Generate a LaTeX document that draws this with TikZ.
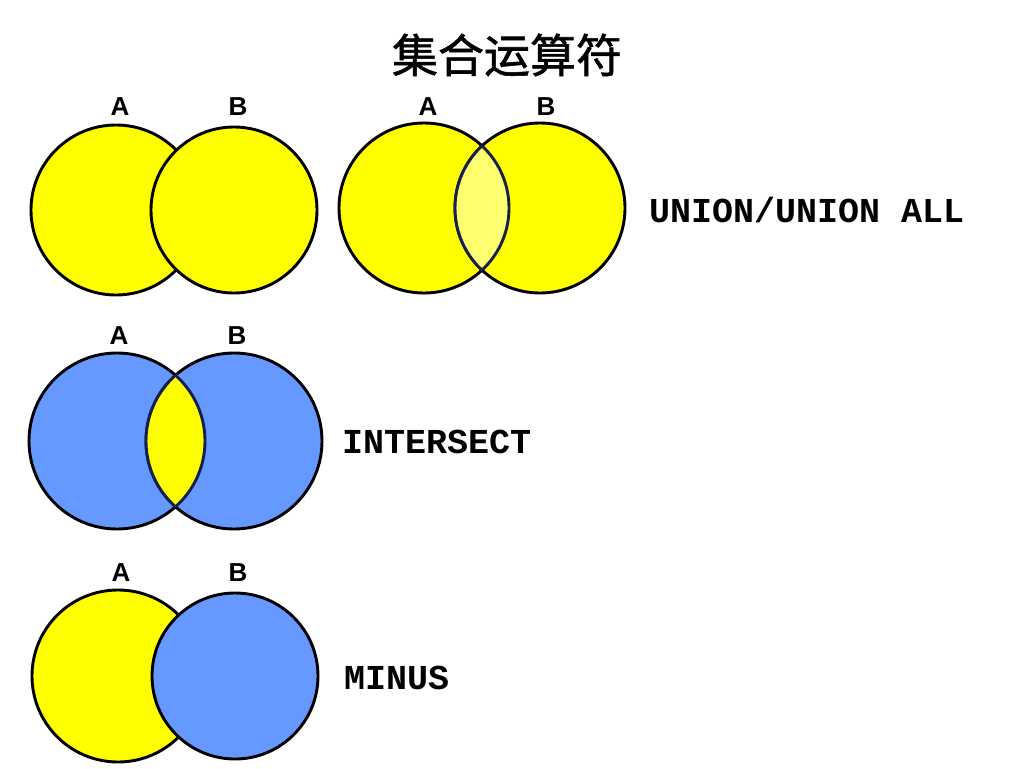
\documentclass[tikz,border=0pt]{standalone}
\usepackage{fontspec}
\setmainfont{Liberation Sans}
\newfontfamily\cjk[FakeBold=1.2]{Noto Sans CJK SC}
\newfontfamily\monofnt{Liberation Mono}
\definecolor{vyellow}{HTML}{FFFF00}
\definecolor{vblue}{HTML}{6699FF}
\definecolor{lensyellow}{HTML}{FFFF70}
\definecolor{navy}{HTML}{14204F}
\tikzset{
  setcirc/.style={circle, draw=black, line width=2.9pt, inner sep=0pt, minimum size=#1},
  setlabel/.style={font=\bfseries\fontsize{26}{26}\selectfont, inner sep=0pt},
  oplabel/.style={font=\monofnt\bfseries\fontsize{35}{35}\selectfont, anchor=west, inner sep=0pt},
  lensline/.style={draw=navy, line width=2.9pt}
}
\begin{document}
\begin{tikzpicture}[x=1pt,y=-1pt]
\useasboundingbox[fill=white] (0,0) rectangle (1014,768);
% title
\node[font=\cjk\fontsize{46}{46}\selectfont, inner sep=0pt] (title) at (507,55) {集合运算符};

% row 1 left: A and B, B on top
\node[setcirc=170pt, fill=vyellow] (r1a) at (116,210) {};
\node[setcirc=166pt, fill=vyellow] (r1b) at (234,210) {};
\node[setlabel] (r1la) at (120,107) {A};
\node[setlabel] (r1lb) at (238,107) {B};

% row 1 right: union with lens
\node[setcirc=170pt, fill=vyellow] (r1c) at (424,208) {};
\node[setcirc=170pt, fill=vyellow] (r1d) at (540,208) {};
\begin{scope}
  \clip (r1c.center) circle[radius=85pt];
  \fill[lensyellow] (r1d.center) circle[radius=85pt];
  \draw[lensline] (r1d.center) circle[radius=85pt];
\end{scope}
\begin{scope}
  \clip (r1d.center) circle[radius=85pt];
  \draw[lensline] (r1c.center) circle[radius=85pt];
\end{scope}
\node[setlabel] (r1lc) at (428,107) {A};
\node[setlabel] (r1ld) at (546,107) {B};
\node[oplabel] (union) at (649,210) {UNION/UNION ALL};

% row 2: intersect
\node[setcirc=176pt, fill=vblue] (r2a) at (117,441) {};
\node[setcirc=176pt, fill=vblue] (r2b) at (234,441) {};
\begin{scope}
  \clip (r2a.center) circle[radius=88pt];
  \fill[vyellow] (r2b.center) circle[radius=88pt];
  \draw[lensline] (r2b.center) circle[radius=88pt];
\end{scope}
\begin{scope}
  \clip (r2b.center) circle[radius=88pt];
  \draw[lensline] (r2a.center) circle[radius=88pt];
\end{scope}
\node[setlabel] (r2la) at (119,336) {A};
\node[setlabel] (r2lb) at (237,336) {B};
\node[oplabel] (intersect) at (342,442) {INTERSECT};

% row 3: minus
\node[setcirc=172pt, fill=vyellow] (r3a) at (118,676) {};
\node[setcirc=166pt, fill=vblue] (r3b) at (235,676) {};
\node[setlabel] (r3la) at (121,573) {A};
\node[setlabel] (r3lb) at (238,573) {B};
\node[oplabel] (minus) at (344,678) {MINUS};
\end{tikzpicture}
\end{document}
